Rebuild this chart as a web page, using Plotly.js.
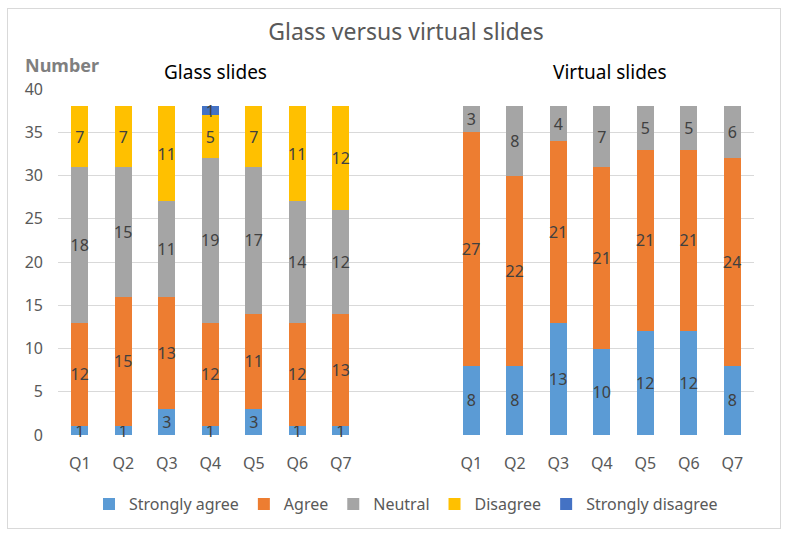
<!DOCTYPE html>
<html><head><meta charset="utf-8">
<script src="https://cdn.plot.ly/plotly-3.0.1.min.js"></script>
<style>body{margin:0;background:#fff}#frame{position:absolute;left:7px;top:8px;width:772px;height:519px;border:1px solid #d9d9d9;pointer-events:none}</style>
</head><body>
<div id="chart" style="width:790px;height:539px"></div>
<div id="frame"></div>
<script>
const questions = ['Q1','Q2','Q3','Q4','Q5','Q6','Q7'];
const glassCats = questions.map(q => 'Glass ' + q);
const virtualCats = questions.map(q => 'Virtual ' + q);
const gapCats = ['gap1','gap2'];
const seriesNames = ['Strongly agree','Agree','Neutral','Disagree','Strongly disagree'];
const seriesColors = ['#5B9BD5','#ED7D31','#A5A5A5','#FFC000','#4472C4'];
// Glass slides
const glassStronglyAgree = [1,1,3,1,3,1,1];
const glassAgree = [12,15,13,12,11,12,13];
const glassNeutral = [18,15,11,19,17,14,12];
const glassDisagree = [7,7,11,5,7,11,12];
const glassStronglyDisagree = [0,0,0,1,0,0,0];
// Virtual slides
const virtualStronglyAgree = [8,8,13,10,12,12,8];
const virtualAgree = [27,22,21,21,21,21,24];
const virtualNeutral = [3,8,4,7,5,5,6];
const virtualDisagree = [0,0,0,0,0,0,0];
const virtualStronglyDisagree = [0,0,0,0,0,0,0];

const glassSeries = [glassStronglyAgree, glassAgree, glassNeutral, glassDisagree, glassStronglyDisagree];
const virtualSeries = [virtualStronglyAgree, virtualAgree, virtualNeutral, virtualDisagree, virtualStronglyDisagree];

const xAll = glassCats.concat(virtualCats);
const traces = seriesNames.map((name, i) => {
  const y = glassSeries[i].concat(virtualSeries[i]);
  return {
    type: 'bar', name: name, x: xAll, y: y,
    marker: {color: seriesColors[i]},
    text: y.map(v => v > 0 ? String(v) : ''),
    textposition: 'inside', insidetextanchor: 'middle', constraintext: 'none', textangle: 0,
    textfont: {color: '#404040', size: 16, family: 'Noto Sans'},
    cliponaxis: false, hoverinfo: 'skip'
  };
});

const layout = {
  barmode: 'stack', bargap: 0.6,
  width: 790, height: 539,
  margin: {l: 58, r: 36, t: 89, b: 104},
  paper_bgcolor: '#fff', plot_bgcolor: '#fff',
  font: {family: 'Noto Sans', color: '#595959'},
  title: {text: 'Glass versus virtual slides', x: 0.5, xref: 'paper', y: 0.94, yanchor: 'middle',
          font: {size: 23, color: '#595959', family: 'Noto Sans'}},
  xaxis: {
    type: 'category', categoryorder: 'array',
    categoryarray: glassCats.concat(gapCats, virtualCats),
    range: [-0.5, 15.5],
    tickvals: xAll, ticktext: questions.concat(questions),
    showgrid: false, zeroline: false, showline: false, ticks: '',
    ticklabelstandoff: 17,
    tickfont: {size: 16, color: '#595959'}
  },
  yaxis: {
    range: [0, 40], dtick: 5, showgrid: true, gridcolor: '#d9d9d9', gridwidth: 1,
    zeroline: false, showline: false, ticks: '', ticklabelstandoff: 14,
    tickfont: {size: 16, color: '#595959'}
  },
  legend: {orientation: 'h', x: 0.5, xanchor: 'center', y: -0.2, yanchor: 'middle',
           font: {size: 16, color: '#595959'}, traceorder: 'normal', itemwidth: 30},
  annotations: [
    {text: '<b>Number</b>', xref: 'paper', yref: 'paper', x: -0.05, y: 1.028, xanchor: 'left', yanchor: 'bottom',
     showarrow: false, font: {size: 18, color: '#7f7f7f', family: 'Noto Sans'}},
    {text: 'Glass slides', xref: 'paper', yref: 'paper', x: 0.226, y: 1.05, xanchor: 'center', yanchor: 'middle',
     showarrow: false, font: {size: 19, color: '#000'}},
    {text: 'Virtual slides', xref: 'paper', yref: 'paper', x: 0.793, y: 1.05, xanchor: 'center', yanchor: 'middle',
     showarrow: false, font: {size: 19, color: '#000'}}
  ],
  showlegend: true
};
Plotly.newPlot('chart', traces, layout, {displayModeBar: false, staticPlot: true});
</script>
</body></html>
